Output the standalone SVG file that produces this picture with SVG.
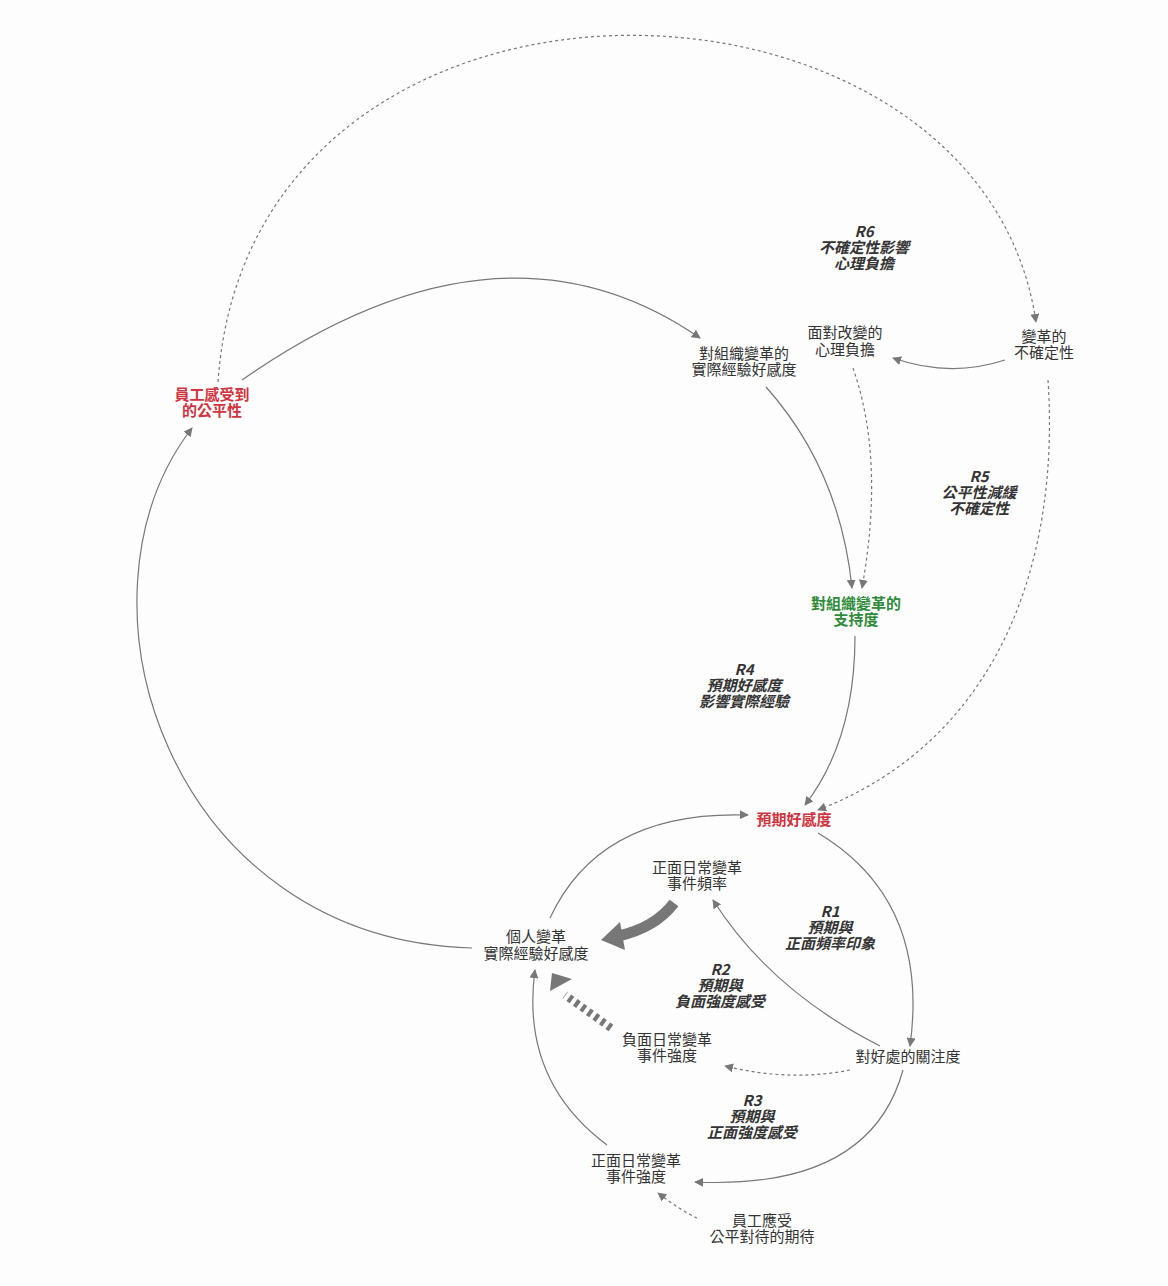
<svg xmlns="http://www.w3.org/2000/svg" width="1168" height="1286" viewBox="0 0 1168 1286">
<style>
text{font-family:"Noto Sans CJK TC","Noto Sans",sans-serif;font-size:15px;fill:#333;text-anchor:middle}
.red{fill:#d0343f;font-weight:bold}
.green{fill:#2e8b3a;font-weight:bold}
.lab{font-weight:bold;font-style:italic;fill:#333}
.c{fill:none;stroke:#777;stroke-width:1.2}
.d{stroke-dasharray:3 3}
</style>
<defs>
<marker id="a" viewBox="0 0 10 10" refX="9" refY="5" markerWidth="9" markerHeight="9" markerUnits="userSpaceOnUse" orient="auto"><path d="M0,0L10,5L0,10z" fill="#777"/></marker>
</defs>
<rect width="1168" height="1286" fill="#fdfdfd"/>
<g id="connectors">
<path class="c" marker-end="url(#a)" d="M242,380 Q500,200 700,338"/>
<path class="c d" marker-end="url(#a)" d="M218,382 C250,-80 980,-60 1036,322"/>
<path class="c" marker-end="url(#a)" d="M1005,360 Q950,378 893,358"/>
<path class="c" marker-end="url(#a)" d="M766,387 Q840,470 852,588"/>
<path class="c d" marker-end="url(#a)" d="M853,368 Q885,460 862,588"/>
<path class="c d" marker-end="url(#a)" d="M1048,380 C1060,560 1000,740 818,810"/>
<path class="c" marker-end="url(#a)" d="M855,636 Q855,740 805,805"/>
<path class="c" marker-end="url(#a)" d="M550,918 Q600,810 748,815"/>
<path class="c" marker-end="url(#a)" d="M818,833 Q930,900 910,1046"/>
<path class="c" marker-end="url(#a)" d="M880,1046 Q770,990 713,900"/>
<path class="c d" marker-end="url(#a)" d="M850,1070 Q790,1082 725,1066"/>
<path class="c" marker-end="url(#a)" d="M903,1070 Q870,1190 695,1182"/>
<path class="c" marker-end="url(#a)" d="M607,1145 Q520,1080 535,970"/>
<path class="c d" marker-end="url(#a)" d="M697,1218 Q680,1210 658,1193"/>
<path class="c" marker-end="url(#a)" d="M472,948 C170,940 60,600 192,428"/>
<path fill="none" stroke="#777" stroke-width="11" d="M674,903 Q655,928 618,936"/>
<path fill="#777" d="M601,940 L620,922 L625,950z"/>
<path fill="none" stroke="#777" stroke-width="8" stroke-dasharray="4 4" d="M611,1028 L565,995"/>
<path fill="#777" d="M550,991 L572,979 L552,973z"/>
</g>
<g id="n1"><text class="red" x="212" y="400">員工感受到</text><text class="red" x="212" y="416">的公平性</text></g>
<g id="n2"><text x="744" y="359">對組織變革的</text><text x="744" y="375">實際經驗好感度</text></g>
<g id="n3"><text x="845" y="338">面對改變的</text><text x="845" y="355">心理負擔</text></g>
<g id="n4"><text x="1044" y="342">變革的</text><text x="1044" y="358">不確定性</text></g>
<g id="n5"><text class="green" x="856" y="609">對組織變革的</text><text class="green" x="856" y="625">支持度</text></g>
<g id="n6"><text class="red" x="794" y="825">預期好感度</text></g>
<g id="n7"><text x="697" y="873">正面日常變革</text><text x="697" y="889">事件頻率</text></g>
<g id="n8"><text x="536" y="942">個人變革</text><text x="536" y="959">實際經驗好感度</text></g>
<g id="n9"><text x="667" y="1045">負面日常變革</text><text x="667" y="1061">事件強度</text></g>
<g id="n10"><text x="908" y="1062">對好處的關注度</text></g>
<g id="n11"><text x="636" y="1166">正面日常變革</text><text x="636" y="1182">事件強度</text></g>
<g id="n12"><text x="762" y="1226">員工應受</text><text x="762" y="1242">公平對待的期待</text></g>
<g id="labels">
<text class="lab" x="864" y="237">R6</text><text class="lab" x="864" y="253">不確定性影響</text><text class="lab" x="864" y="269">心理負擔</text>
<text class="lab" x="979" y="482">R5</text><text class="lab" x="979" y="498">公平性減緩</text><text class="lab" x="979" y="514">不確定性</text>
<text class="lab" x="744" y="675">R4</text><text class="lab" x="744" y="691">預期好感度</text><text class="lab" x="744" y="707">影響實際經驗</text>
<text class="lab" x="830" y="917">R1</text><text class="lab" x="830" y="933">預期與</text><text class="lab" x="830" y="949">正面頻率印象</text>
<text class="lab" x="720" y="975">R2</text><text class="lab" x="720" y="991">預期與</text><text class="lab" x="720" y="1007">負面強度感受</text>
<text class="lab" x="752" y="1106">R3</text><text class="lab" x="752" y="1122">預期與</text><text class="lab" x="752" y="1138">正面強度感受</text>
</g>
</svg>
